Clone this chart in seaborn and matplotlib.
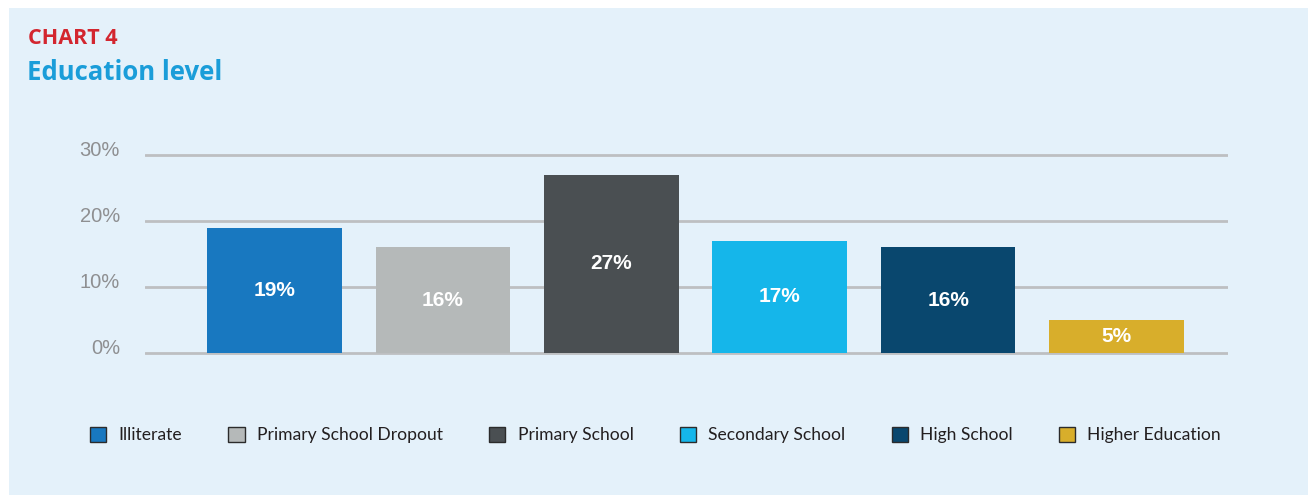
import matplotlib
matplotlib.use("Agg")
import matplotlib.pyplot as plt
import matplotlib.transforms as mtransforms
from matplotlib.patches import Patch, Rectangle
import seaborn as sns
import pandas as pd

categories = ["Illiterate", "Primary School Dropout", "Primary School",
              "Secondary School", "High School", "Higher Education"]
values = [19, 16, 27, 17, 16, 5]
value_labels = ["19%", "16%", "27%", "17%", "16%", "5%"]
colors = ["#1878C0", "#B5B9B9", "#4A4F52", "#15B6EA", "#09476E", "#D8AE2B"]
yticks = [0, 10, 20, 30]
ytick_labels = ["0%", "10%", "20%", "30%"]

df = pd.DataFrame({"category": categories, "value": values})

sns.set_theme(style="white")
plt.rcParams["font.family"] = ["Liberation Sans", "DejaVu Sans"]

W, H = 1308, 495
fig = plt.figure(figsize=(W / 100, H / 100), dpi=100, facecolor="white")
panel_color = "#E4F1FA"
fig.patches.append(Rectangle((9 / W, 0), 1 - 9 / W, 1 - 8 / H,
                             transform=fig.transFigure, facecolor=panel_color,
                             edgecolor="none", zorder=-10))

# axes geometry: y=0 at px 353, y=30 at px 155 ; ylim -1..31
ppu = (353 - 155) / 30.0
y_bot_px = 353 + ppu * 1
y_top_px = 155 - ppu * 1
ax = fig.add_axes([145 / W, 1 - y_bot_px / H, (1228 - 145) / W, (y_bot_px - y_top_px) / H])
ax.set_facecolor("none")

sns.barplot(data=df, x="category", y="value", hue="category", palette=colors,
            order=categories, hue_order=categories, width=0.8, dodge=False,
            legend=False, saturation=1, ax=ax, zorder=3, linewidth=0, edgecolor="none")

ax.set_xlim(-0.769, 5.662)
ax.set_ylim(-1, 31)
ax.set_yticks(yticks)
ax.set_yticklabels(ytick_labels)
ax.set_xticks([])
ax.set_xlabel("")
ax.set_ylabel("")
for s in ax.spines.values():
    s.set_visible(False)
ax.grid(False)
for yv in yticks:
    ax.axhline(yv, color="#BDBFC1", lw=2.0, zorder=1)
ax.tick_params(axis="y", length=0, pad=18, labelsize=14.5, labelcolor="#8E8F91")
offset = mtransforms.ScaledTranslation(0, 7 / 100, fig.dpi_scale_trans)
for lab in ax.get_yticklabels():
    lab.set_transform(lab.get_transform() + offset)

for cont, lab in zip(ax.containers, value_labels):
    ax.bar_label(cont, labels=[lab], label_type="center", color="white",
                 fontsize=15, fontweight="bold", family=["Liberation Sans", "DejaVu Sans"])

# titles
fig.text(28 / W, 1 - 44.5 / H, "CHART 4", color="#D3262F", fontsize=15.5,
         fontweight="bold", family=["Open Sans", "DejaVu Sans"], va="baseline", ha="left")
fig.text(27 / W, 1 - 79.5 / H, "Education level", color="#1A9DD9", fontsize=18.5,
         fontweight="bold", family=["Open Sans", "DejaVu Sans"], va="baseline", ha="left")

handles = [Patch(facecolor=c, edgecolor="#2B2B2B", linewidth=1.0, label=n)
           for c, n in zip(colors, categories)]
leg = fig.legend(handles=handles, loc="center", bbox_to_anchor=(655.5 / W, 1 - 435 / H),
                 ncol=6, frameon=False, handlelength=0.92, handleheight=0.92,
                 handletextpad=0.7, columnspacing=2.65,
                 prop={"family": ["Lato", "DejaVu Sans"], "size": 12.6})
for t in leg.get_texts():
    t.set_color("#231F20")

fig.savefig("out.png", dpi=100, facecolor="white")
